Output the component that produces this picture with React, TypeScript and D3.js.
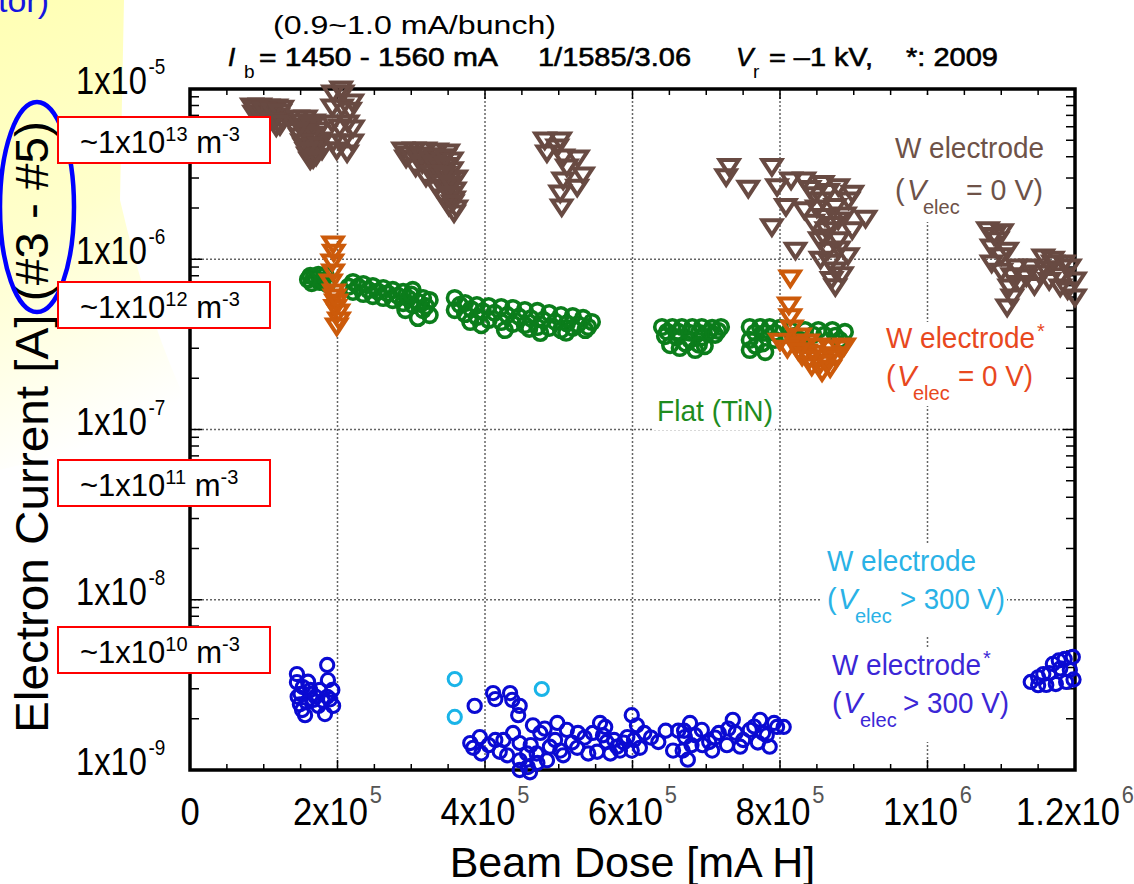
import React, { useEffect, useRef } from "react";
import * as d3 from "d3";

type Pt = [number, number];

// beam dose [mA H], electron current [A]
const wElec0V: Pt[] = [
  [0.84e5, 7.95e-6], [0.95e5, 7.95e-6], [1.06e5, 7.85e-6], [1.17e5, 7.85e-6], [1.25e5, 7.7e-6],
  [0.87e5, 7.2e-6], [0.98e5, 7.2e-6], [1.08e5, 7.1e-6], [1.19e5, 6.9e-6], [1.25e5, 6.6e-6],
  [1.22e5, 6.1e-6], [1.17e5, 6.0e-6], [1.03e5, 6.8e-6], [0.92e5, 7.0e-6],
  [0.9e5, 7.6e-6], [1.01e5, 7.5e-6], [1.12e5, 7.4e-6], [1.22e5, 7.3e-6], [1.12e5, 6.5e-6], [1.2e5, 6.3e-6],
  [1.46e5, 6.76e-6], [1.57e5, 6.76e-6], [1.68e5, 6.4e-6], [1.49e5, 6.06e-6], [1.6e5, 5.9e-6],
  [1.74e5, 5.74e-6], [1.49e5, 5.29e-6], [1.63e5, 5.15e-6], [1.76e5, 5.01e-6], [1.55e5, 4.63e-6],
  [1.68e5, 4.5e-6], [1.79e5, 4.38e-6], [1.6e5, 4.09e-6], [1.71e5, 4.03e-6], [1.63e5, 3.83e-6],
  [1.52e5, 6.4e-6], [1.65e5, 6.1e-6], [1.55e5, 5.6e-6], [1.7e5, 5.4e-6], [1.52e5, 4.9e-6],
  [1.75e5, 4.7e-6], [1.58e5, 4.35e-6], [1.67e5, 3.9e-6], [1.45e5, 5.7e-6],
  [1.94e5, 9.47e-6], [2.07e5, 9.47e-6], [2.2e5, 8.39e-6], [1.93e5, 7.84e-6], [2.06e5, 7.84e-6],
  [2.17e5, 7.5e-6], [2.14e5, 6.32e-6], [1.93e5, 6.32e-6], [2.03e5, 5.98e-6], [2.21e5, 5.9e-6],
  [1.94e5, 4.88e-6], [2.07e5, 4.88e-6], [2.2e5, 4.88e-6], [2.13e5, 4.21e-6], [1.99e5, 4.38e-6],
  [2.05e5, 1.0e-5],
  [2.89e5, 4.38e-6], [3.04e5, 4.38e-6], [3.19e5, 4.38e-6], [3.35e5, 4.32e-6], [3.5e5, 4.26e-6],
  [2.93e5, 3.93e-6], [3.09e5, 3.88e-6], [3.25e5, 3.83e-6], [3.42e5, 3.83e-6], [3.55e5, 3.83e-6],
  [3.06e5, 3.48e-6], [3.23e5, 3.39e-6], [3.39e5, 3.35e-6], [3.55e5, 3.35e-6], [3.2e5, 3.04e-6],
  [3.36e5, 2.96e-6], [3.53e5, 2.92e-6], [3.61e5, 3.0e-6], [3.34e5, 2.65e-6], [3.48e5, 2.62e-6],
  [3.59e5, 2.55e-6], [3.44e5, 2.32e-6], [3.58e5, 2.26e-6], [3.51e5, 2.05e-6], [3.61e5, 2.0e-6],
  [3.58e5, 1.87e-6],
  [2.98e5, 4.15e-6], [3.14e5, 4.1e-6], [3.3e5, 4.05e-6], [3.46e5, 4.0e-6], [3.15e5, 3.65e-6],
  [3.31e5, 3.6e-6], [3.47e5, 3.55e-6], [3.28e5, 3.2e-6], [3.45e5, 3.15e-6], [3.42e5, 2.8e-6],
  [3.54e5, 2.75e-6], [3.52e5, 2.4e-6], [3.56e5, 2.15e-6],
  [4.81e5, 5.01e-6], [5.02e5, 5.01e-6], [4.84e5, 4.21e-6], [5.06e5, 3.98e-6], [5.26e5, 3.93e-6],
  [5.11e5, 3.48e-6], [5.33e5, 3.13e-6], [5.06e5, 2.92e-6], [5.25e5, 2.65e-6], [5.02e5, 2.45e-6],
  [5.04e5, 2.03e-6], [4.98e5, 4.56e-6],
  [7.31e5, 3.5e-6], [7.27e5, 3.05e-6], [7.57e5, 2.61e-6], [7.89e5, 3.5e-6], [7.96e5, 2.67e-6],
  [8.15e5, 2.92e-6], [8.33e5, 2.92e-6], [8.08e5, 2.04e-6], [8.33e5, 1.95e-6], [7.89e5, 1.55e-6],
  [8.21e5, 1.13e-6], [8.58e5, 2.79e-6], [8.79e5, 2.67e-6], [8.98e5, 2.44e-6], [8.58e5, 2.23e-6],
  [8.75e5, 2.04e-6], [8.93e5, 2.23e-6], [9.16e5, 1.74e-6], [8.61e5, 1.78e-6], [8.79e5, 1.7e-6],
  [8.98e5, 1.49e-6], [8.63e5, 1.49e-6], [8.79e5, 1.3e-6], [8.65e5, 1.13e-6], [8.75e5, 8.65e-7],
  [8.75e5, 6.9e-7], [8.47e5, 2.39e-6], [8.88e5, 1.82e-6], [8.54e5, 1.3e-6], [8.92e5, 1.05e-6],
  [8.68e5, 9.6e-7], [8.84e5, 8.1e-7],
  [8.4e5, 2.6e-6], [8.65e5, 2.5e-6], [8.5e5, 2.0e-6], [8.7e5, 1.6e-6], [8.45e5, 1.65e-6],
  [8.6e5, 1.35e-6], [8.8e5, 1.15e-6], [8.55e5, 1.0e-6], [8.7e5, 7.6e-7],
  [1.101e6, 1.45e-6], [1.108e6, 1.13e-6], [1.121e6, 9.0e-7], [1.111e6, 6.87e-7], [1.108e6, 5.24e-7],
  [1.134e6, 7.87e-7], [1.157e6, 1.03e-6], [1.17e6, 9.5e-7], [1.151e6, 8.3e-7], [1.193e6, 9.0e-7],
  [1.2e6, 7.55e-7], [1.2e6, 6.0e-7], [1.18e6, 6.87e-7], [1.082e6, 1.49e-6], [1.087e6, 1.18e-6],
  [1.087e6, 9.5e-7],
  [1.095e6, 1.3e-6], [1.1e6, 1.05e-6], [1.115e6, 8.0e-7], [1.125e6, 7.2e-7], [1.115e6, 6.0e-7],
  [1.14e6, 9.0e-7], [1.145e6, 7.0e-7], [1.16e6, 8.8e-7], [1.165e6, 7.5e-7], [1.18e6, 8.0e-7],
  [1.19e6, 6.6e-7], [1.17e6, 1.0e-6], [1.09e6, 1.38e-6], [1.1e6, 8.5e-7], [1.185e6, 9.5e-7],
];

const wElec0VStar: Pt[] = [
  [1.94e5, 1.23e-6], [1.95e5, 1.1e-6], [1.93e5, 9.64e-7], [1.94e5, 8.42e-7], [1.91e5, 7.35e-7],
  [1.95e5, 6.43e-7], [1.98e5, 5.61e-7], [2.01e5, 4.9e-7], [2.02e5, 4.4e-7], [1.99e5, 4.05e-7],
  [1.97e5, 5.2e-7], [1.96e5, 6.0e-7],
  [8.14e5, 7.76e-7], [8.12e5, 5.38e-7], [8.14e5, 4.6e-7], [8.16e5, 3.95e-7], [8.27e5, 3.54e-7],
  [8.38e5, 3.27e-7], [8.52e5, 3.09e-7], [8.68e5, 3.01e-7], [8.81e5, 3.01e-7], [8.22e5, 3.13e-7],
  [8.35e5, 2.85e-7], [8.49e5, 2.63e-7], [8.62e5, 2.49e-7], [8.76e5, 2.63e-7], [8.57e5, 2.18e-7],
  [8.43e5, 2.36e-7], [8.87e5, 3.09e-7],
  [8.0e5, 3.3e-7], [8.1e5, 3.0e-7], [8.3e5, 2.7e-7], [8.45e5, 2.8e-7], [8.7e5, 2.75e-7],
  [8.55e5, 2.45e-7], [8.68e5, 2.3e-7], [8.4e5, 2.6e-7], [8.25e5, 2.9e-7],
];

const flatTiN: Pt[] = [
  [1.63e5, 7.98e-7], [1.74e5, 8.1e-7], [1.84e5, 8.08e-7], [1.65e5, 7.25e-7], [1.76e5, 7.35e-7],
  [1.86e5, 7.15e-7], [1.71e5, 7.66e-7], [1.68e5, 7.9e-7], [1.8e5, 7.5e-7], [1.6e5, 7.6e-7],
  [2.21e5, 7.35e-7], [2.21e5, 6.43e-7], [2.35e5, 7.15e-7], [2.35e5, 6.25e-7], [2.48e5, 6.96e-7],
  [2.48e5, 6.08e-7], [2.62e5, 6.78e-7], [2.62e5, 5.92e-7], [2.75e5, 6.6e-7], [2.75e5, 5.76e-7],
  [2.89e5, 6.43e-7], [2.89e5, 5.53e-7], [3.02e5, 6.6e-7], [3.02e5, 5.38e-7], [3.16e5, 5.92e-7],
  [3.16e5, 5.03e-7], [3.25e5, 5.76e-7], [3.25e5, 4.7e-7], [3.09e5, 4.52e-7], [2.92e5, 5.03e-7],
  [2.28e5, 6.9e-7], [2.42e5, 6.6e-7], [2.55e5, 6.45e-7], [2.68e5, 6.3e-7], [2.82e5, 6.1e-7],
  [2.96e5, 5.9e-7], [3.1e5, 5.6e-7], [3.2e5, 5.3e-7], [2.15e5, 6.9e-7], [3.0e5, 6.2e-7],
  [3.59e5, 5.92e-7], [3.59e5, 5.03e-7], [3.73e5, 5.53e-7], [3.73e5, 4.77e-7], [3.89e5, 5.38e-7],
  [3.89e5, 4.58e-7], [4.05e5, 5.31e-7], [4.05e5, 4.4e-7], [4.22e5, 5.24e-7], [4.22e5, 4.28e-7],
  [4.38e5, 5.17e-7], [4.38e5, 4.17e-7], [4.54e5, 5.03e-7], [4.54e5, 4.11e-7], [4.71e5, 4.97e-7],
  [4.71e5, 4.0e-7], [4.87e5, 4.83e-7], [4.87e5, 3.95e-7], [5.03e5, 4.7e-7], [5.03e5, 3.84e-7],
  [5.19e5, 4.64e-7], [5.19e5, 3.95e-7], [5.33e5, 4.52e-7], [5.45e5, 4.28e-7], [5.36e5, 3.84e-7],
  [3.8e5, 4.28e-7], [4.27e5, 3.84e-7], [4.75e5, 3.69e-7],
  [3.66e5, 5.4e-7], [3.81e5, 5.1e-7], [3.97e5, 4.95e-7], [4.13e5, 4.85e-7], [4.3e5, 4.7e-7],
  [4.46e5, 4.6e-7], [4.62e5, 4.5e-7], [4.79e5, 4.4e-7], [4.95e5, 4.3e-7], [5.11e5, 4.2e-7],
  [5.26e5, 4.15e-7], [5.4e5, 4.0e-7], [3.95e5, 4.1e-7], [4.6e5, 3.9e-7], [5.1e5, 3.7e-7],
  [6.4e5, 4.0e-7], [6.54e5, 4.0e-7], [6.67e5, 4.0e-7], [6.81e5, 4.0e-7], [6.94e5, 4.0e-7],
  [7.08e5, 3.95e-7], [7.2e5, 4.0e-7], [6.44e5, 3.54e-7], [6.6e5, 3.48e-7], [6.78e5, 3.36e-7],
  [6.94e5, 3.48e-7], [7.12e5, 3.6e-7], [6.64e5, 3.01e-7], [6.85e5, 2.93e-7], [6.98e5, 3.09e-7],
  [6.51e5, 3.13e-7], [6.47e5, 3.75e-7], [6.62e5, 3.75e-7], [6.77e5, 3.7e-7], [6.9e5, 3.7e-7],
  [7.04e5, 3.75e-7], [7.16e5, 3.8e-7], [6.72e5, 3.2e-7], [6.9e5, 3.15e-7],
  [7.59e5, 4.0e-7], [7.73e5, 4.0e-7], [7.86e5, 4.0e-7], [8.0e5, 3.95e-7], [7.59e5, 3.36e-7],
  [7.76e5, 3.2e-7], [7.93e5, 3.36e-7], [7.59e5, 2.93e-7], [7.8e5, 2.85e-7], [8.14e5, 3.84e-7],
  [8.34e5, 3.84e-7], [8.52e5, 3.84e-7], [8.71e5, 3.84e-7], [8.88e5, 3.74e-7], [8.27e5, 3.36e-7],
  [8.81e5, 3.36e-7], [7.66e5, 3.7e-7], [7.8e5, 3.7e-7], [7.93e5, 3.7e-7], [7.67e5, 3.1e-7],
  [8.45e5, 3.6e-7], [8.6e5, 3.6e-7], [8.75e5, 3.55e-7], [8.2e5, 3.55e-7],
];

const wElec300V: Pt[] = [[3.59e5, 3.42e-9], [3.59e5, 2.05e-9], [4.77e5, 2.99e-9]];

const wElec300VStar: Pt[] = [
  [1.86e5, 4.14e-9], [1.87e5, 3.37e-9], [1.45e5, 3.66e-9], [1.53e5, 3.07e-9], [1.86e5, 2.69e-9],
  [1.56e5, 2.1e-9], [1.83e5, 2.13e-9], [1.67e5, 2.58e-9], [1.46e5, 2.69e-9], [1.94e5, 2.38e-9],
  [1.63e5, 2.95e-9], [1.45e5, 3.28e-9], [1.74e5, 2.38e-9], [1.49e5, 2.43e-9], [1.76e5, 2.95e-9],
  [1.93e5, 2.95e-9], [1.5e5, 2.8e-9], [1.58e5, 2.5e-9], [1.7e5, 2.7e-9], [1.8e5, 2.55e-9],
  [1.6e5, 3.3e-9], [1.9e5, 2.6e-9], [1.52e5, 2.25e-9],
  [3.86e5, 2.38e-9], [4.11e5, 2.83e-9], [4.14e5, 2.61e-9], [4.34e5, 2.83e-9], [4.37e5, 2.58e-9],
  [4.47e5, 2.38e-9], [4.45e5, 2.1e-9], [4.65e5, 1.83e-9], [4.81e5, 1.75e-9], [4.98e5, 1.89e-9],
  [5.11e5, 1.72e-9], [5.56e5, 1.89e-9], [5.26e5, 1.65e-9], [5.46e5, 1.65e-9], [5.65e5, 1.46e-9],
  [5.79e5, 1.37e-9], [5.93e5, 1.56e-9], [3.8e5, 1.44e-9], [3.93e5, 1.56e-9], [3.84e5, 1.35e-9],
  [4.14e5, 1.5e-9], [4.2e5, 1.28e-9], [4.38e5, 1.65e-9], [4.47e5, 1.44e-9], [4.57e5, 1.25e-9],
  [4.58e5, 1.04e-9], [4.71e5, 1.1e-9], [4.84e5, 1.14e-9], [4.88e5, 1.37e-9], [5.06e5, 1.22e-9],
  [5.25e5, 1.35e-9], [5.52e5, 1.28e-9], [4.47e5, 1.14e-9], [4.75e5, 1.65e-9], [4.61e5, 9.7e-10],
  [4.47e5, 1.0e-9],
  [3.95e5, 1.25e-9], [4.05e5, 1.4e-9], [4.25e5, 1.5e-9], [4.3e5, 1.22e-9], [4.62e5, 1.4e-9],
  [4.7e5, 1.25e-9], [4.95e5, 1.5e-9], [5.02e5, 1.3e-9], [5.18e5, 1.45e-9], [5.35e5, 1.55e-9],
  [5.4e5, 1.25e-9], [5.6e5, 1.6e-9], [5.7e5, 1.25e-9], [5.88e5, 1.45e-9],
  [5.99e5, 2.1e-9], [6.06e5, 1.83e-9], [6.16e5, 1.65e-9], [6.35e5, 1.46e-9], [6.02e5, 1.5e-9],
  [5.75e5, 1.5e-9], [5.63e5, 1.79e-9], [5.83e5, 1.3e-9], [5.99e5, 1.3e-9], [6.78e5, 1.89e-9],
  [6.71e5, 1.56e-9], [6.68e5, 1.3e-9], [6.75e5, 1.15e-9], [6.8e5, 1.4e-9], [6.94e5, 1.72e-9],
  [7.04e5, 1.46e-9], [7.08e5, 1.3e-9], [7.17e5, 1.65e-9], [7.36e5, 1.97e-9], [7.4e5, 1.65e-9],
  [7.46e5, 1.37e-9], [7.59e5, 1.72e-9], [7.73e5, 1.97e-9], [7.77e5, 1.65e-9], [7.86e5, 1.37e-9],
  [7.96e5, 1.79e-9], [8.05e5, 1.79e-9], [7.92e5, 1.89e-9],
  [6.1e5, 1.35e-9], [6.25e5, 1.55e-9], [6.45e5, 1.7e-9], [6.55e5, 1.3e-9], [6.62e5, 1.7e-9],
  [6.85e5, 1.6e-9], [6.95e5, 1.4e-9], [7.12e5, 1.55e-9], [7.28e5, 1.4e-9], [7.3e5, 1.75e-9],
  [7.5e5, 1.5e-9], [7.65e5, 1.8e-9], [7.7e5, 1.45e-9], [7.82e5, 1.6e-9], [6.7e5, 1.7e-9],
  [1.14e6, 3.29e-9], [1.157e6, 3.66e-9], [1.17e6, 4.2e-9], [1.186e6, 4.49e-9], [1.193e6, 3.87e-9],
  [1.174e6, 3.2e-9], [1.188e6, 3.29e-9], [1.161e6, 3.16e-9], [1.197e6, 4.61e-9],
  [1.15e6, 3.5e-9], [1.165e6, 3.7e-9], [1.18e6, 3.95e-9], [1.178e6, 4.4e-9], [1.15e6, 3.15e-9],
  [1.198e6, 3.4e-9],
];

const xTicks = [0, 2e5, 4e5, 6e5, 8e5, 1e6, 1.2e6];
const xTickBase = ["0", "2x10", "4x10", "6x10", "8x10", "1x10", "1.2x10"];
const xTickExp = ["", "5", "5", "5", "5", "6", "6"];
const yTicks = [1e-5, 1e-6, 1e-7, 1e-8, 1e-9];
const yTickExp = ["-5", "-6", "-7", "-8", "-9"];
const densityExp = ["13", "12", "11", "10"];
const densityBoxTop = [117, 282, 460, 627];

const FONT = "'Liberation Sans', Arial, Helvetica, sans-serif";

const C = {
  brown: "#684a42",
  orange: "#cc5a0a",
  green: "#0b7d1b",
  cyan: "#1ab4e8",
  blue: "#0a0ad2",
};

const App = () => {
  const svgRef = useRef<SVGSVGElement>(null);

  useEffect(() => {
    const W = 1134;
    const H = 884;
    const L = 190, R = 1075, T = 89, B = 770;

    const svg = d3.select(svgRef.current)
      .attr("width", W)
      .attr("height", H)
      .style("font-family", FONT);
    svg.selectAll("*").remove();

    const x = d3.scaleLinear().domain([0, 1.2e6]).range([L, R]);
    const y = d3.scaleLog().domain([1e-9, 1e-5]).range([B, T]);

    // yellow slide background at the left
    const defs = svg.append("defs");
    const grad = defs.append("linearGradient").attr("id", "yel")
      .attr("x1", 0).attr("y1", 0).attr("x2", 0.2).attr("y2", 1);
    grad.append("stop").attr("offset", 0).attr("stop-color", "#ffffb4");
    grad.append("stop").attr("offset", 0.5).attr("stop-color", "#ffffcc");
    grad.append("stop").attr("offset", 0.85).attr("stop-color", "#fffff0");
    grad.append("stop").attr("offset", 1).attr("stop-color", "#ffffff");
    svg.append("path")
      .attr("d", "M0,0 H124 L120,200 Q150,330 195,420 L0,470 Z")
      .attr("fill", "url(#yel)");

    svg.append("text").attr("x", 49).attr("y", 12).attr("text-anchor", "end")
      .attr("font-size", 34).attr("fill", "#1515e0").text("tor)");

    // grid
    const grid = svg.append("g").attr("stroke", "#666").attr("stroke-width", 1.5)
      .attr("stroke-dasharray", "2,2");
    xTicks.slice(1, -1).forEach((v) => {
      grid.append("line").attr("x1", x(v)).attr("x2", x(v)).attr("y1", T).attr("y2", B);
    });
    yTicks.slice(1, -1).forEach((v) => {
      grid.append("line").attr("x1", L).attr("x2", R).attr("y1", y(v)).attr("y2", y(v));
    });

    // ticks
    const ticks = svg.append("g").attr("stroke", "#000").attr("stroke-width", 1.5);
    d3.range(5e4, 1.2e6, 5e4).forEach((v) => {
      const major = Math.abs(v / 2e5 - Math.round(v / 2e5)) < 1e-6;
      const len = major ? 10 : 6;
      ticks.append("line").attr("x1", x(v)).attr("x2", x(v)).attr("y1", B).attr("y2", B - len);
      ticks.append("line").attr("x1", x(v)).attr("x2", x(v)).attr("y1", T).attr("y2", T + len);
    });
    d3.range(-9, -5).forEach((d) => {
      d3.range(2, 10).forEach((k) => {
        const yy = y(k * Math.pow(10, d));
        ticks.append("line").attr("x1", L).attr("x2", L + 9).attr("y1", yy).attr("y2", yy);
        ticks.append("line").attr("x1", R).attr("x2", R - 9).attr("y1", yy).attr("y2", yy);
      });
    });
    yTicks.forEach((v) => {
      ticks.append("line").attr("x1", L).attr("x2", L + 12).attr("y1", y(v)).attr("y2", y(v));
      ticks.append("line").attr("x1", R).attr("x2", R - 12).attr("y1", y(v)).attr("y2", y(v));
    });

    svg.append("rect").attr("x", L).attr("y", T).attr("width", R - L).attr("height", B - T)
      .attr("fill", "none").attr("stroke", "#000").attr("stroke-width", 3.5);

    // white backgrounds behind the annotations
    [[885, 95, 165, 127], [880, 322, 172, 84], [653, 396, 122, 34], [821, 543, 186, 94], [825, 648, 188, 94]]
      .forEach(([bx, by, bw, bh]) => {
        svg.append("rect").attr("x", bx).attr("y", by).attr("width", bw).attr("height", bh).attr("fill", "#fff");
      });

    // markers
    const tri = "M-9.5,-6.5 L9.5,-6.5 L0,8 Z";
    const drawTri = (data: Pt[], color: string) => {
      svg.append("g").selectAll("path").data(data).join("path")
        .attr("d", tri)
        .attr("transform", (d) => `translate(${x(d[0])},${y(d[1])})`)
        .attr("fill", "none").attr("stroke", color).attr("stroke-width", 4)
        .attr("stroke-linejoin", "miter");
    };
    const drawCirc = (data: Pt[], color: string, r: number, sw: number) => {
      svg.append("g").selectAll("circle").data(data).join("circle")
        .attr("cx", (d) => x(d[0])).attr("cy", (d) => y(d[1])).attr("r", r)
        .attr("fill", "none").attr("stroke", color).attr("stroke-width", sw);
    };
    drawCirc(flatTiN, C.green, 7.3, 3.6);
    drawTri(wElec0VStar, C.orange);
    drawTri(wElec0V, C.brown);
    drawCirc(wElec300V, C.cyan, 6.6, 3);
    drawCirc(wElec300VStar, C.blue, 6.6, 3.1);

    // annotations
    const legend = (x0: number, y1: number, y2: number, color: string, star: boolean,
      vx: number, ex: number, rest: string, rx: number, rlen: number) => {
      const g = svg.append("g").attr("fill", color).attr("font-size", 29);
      g.append("text").attr("x", x0).attr("y", y1).attr("textLength", 149)
        .attr("lengthAdjust", "spacingAndGlyphs").text("W electrode");
      if (star) g.append("text").attr("x", x0 + 151).attr("y", y1 - 10).attr("font-size", 20).text("*");
      g.append("text").attr("x", x0).attr("y", y2).text("(");
      g.append("text").attr("x", vx).attr("y", y2).attr("font-style", "italic").text("V");
      g.append("text").attr("x", ex).attr("y", y2 + 14).attr("font-size", 20).text("elec");
      g.append("text").attr("x", rx).attr("y", y2).attr("textLength", rlen)
        .attr("lengthAdjust", "spacingAndGlyphs").text(rest);
    };
    legend(895, 158, 200, "#6e5248", false, 907, 923, "= 0 V)", 966, 77);
    legend(886, 348, 386, "#e8481e", true, 897, 913, "= 0 V)", 958, 75);
    legend(827, 571, 609, "#2ab2e6", false, 838, 855, "> 300 V)", 900, 105);
    legend(832, 675, 713, "#3b27d6", true, 843, 860, "> 300 V)", 903, 106);

    svg.append("text").attr("x", 657).attr("y", 421).attr("font-size", 29)
      .attr("fill", "#1e8c1e").attr("textLength", 116).attr("lengthAdjust", "spacingAndGlyphs")
      .text("Flat (TiN)");

    // tick labels
    xTicks.forEach((v, i) => {
      const g = svg.append("g").attr("transform", `translate(${x(v)},825) scale(0.91,1)`);
      const t = g.append("text").attr("text-anchor", "middle").attr("font-size", 38).text(xTickBase[i]);
      if (xTickExp[i]) {
        t.append("tspan").attr("font-size", 24).attr("dx", 2).attr("dy", -22)
          .attr("fill", "#555").text(xTickExp[i]);
      }
    });
    yTicks.forEach((v, i) => {
      const g = svg.append("g").attr("transform", `translate(76,${y(v) + 5}) scale(0.86,1)`);
      const t = g.append("text").attr("font-size", 38).text("1x10");
      t.append("tspan").attr("font-size", 22).attr("dx", 2).attr("dy", -20).text(yTickExp[i]);
    });

    // axis titles
    svg.append("text").attr("x", (L + R) / 2).attr("y", 877).attr("text-anchor", "middle")
      .attr("font-size", 43).text("Beam Dose [mA H]");
    svg.append("text").attr("transform", "translate(48,733) rotate(-90)")
      .attr("font-size", 47).attr("textLength", 612).attr("lengthAdjust", "spacingAndGlyphs")
      .text("Electron Current [A] (#3 - #5)");

    svg.append("ellipse").attr("cx", 37).attr("cy", 207).attr("rx", 37).attr("ry", 105)
      .attr("fill", "none").attr("stroke", "#0000ff").attr("stroke-width", 4.5);

    // title
    const fit = (s: string, tx: number, ty: number, len: number, size = 26, heavy = false) =>
      svg.append("text").attr("x", tx).attr("y", ty).attr("font-size", size)
        .attr("stroke", heavy ? "#000" : "none").attr("stroke-width", heavy ? 0.6 : 0)
        .attr("textLength", len).attr("lengthAdjust", "spacingAndGlyphs").text(s);
    fit("(0.9~1.0 mA/bunch)", 273, 34, 283);
    svg.append("text").attr("x", 228).attr("y", 66).attr("font-size", 26)
      .attr("stroke", "#000").attr("stroke-width", 0.6).attr("font-style", "italic").text("I");
    svg.append("text").attr("x", 244).attr("y", 78).attr("font-size", 19).text("b");
    fit("= 1450 - 1560 mA", 259, 66, 239, 26, true);
    fit("1/1585/3.06", 538, 66, 153, 26, true);
    svg.append("text").attr("x", 736).attr("y", 66).attr("font-size", 26)
      .attr("stroke", "#000").attr("stroke-width", 0.6).attr("font-style", "italic").text("V");
    svg.append("text").attr("x", 753).attr("y", 78).attr("font-size", 19).text("r");
    fit("= \u20131 kV,", 769, 66, 104, 26, true);
    fit("*: 2009", 906, 66, 92, 26, true);

    // density boxes
    densityBoxTop.forEach((top, i) => {
      svg.append("rect").attr("x", 58).attr("y", top).attr("width", 212).attr("height", 46)
        .attr("fill", "#fff").attr("stroke", "#ff0000").attr("stroke-width", 2);
      const t = svg.append("text").attr("x", 80).attr("y", top + 36).attr("font-size", 31);
      t.append("tspan").text("~1x10");
      t.append("tspan").attr("font-size", 20).attr("dy", -12).text(densityExp[i]);
      t.append("tspan").attr("dy", 12).text("\u00a0m");
      t.append("tspan").attr("font-size", 20).attr("dy", -12).text("-3");
    });
  }, []);

  return (
    <svg ref={svgRef} style={{ position: "absolute", left: 0, top: 0, display: "block" }} />
  );
};

export default App;
